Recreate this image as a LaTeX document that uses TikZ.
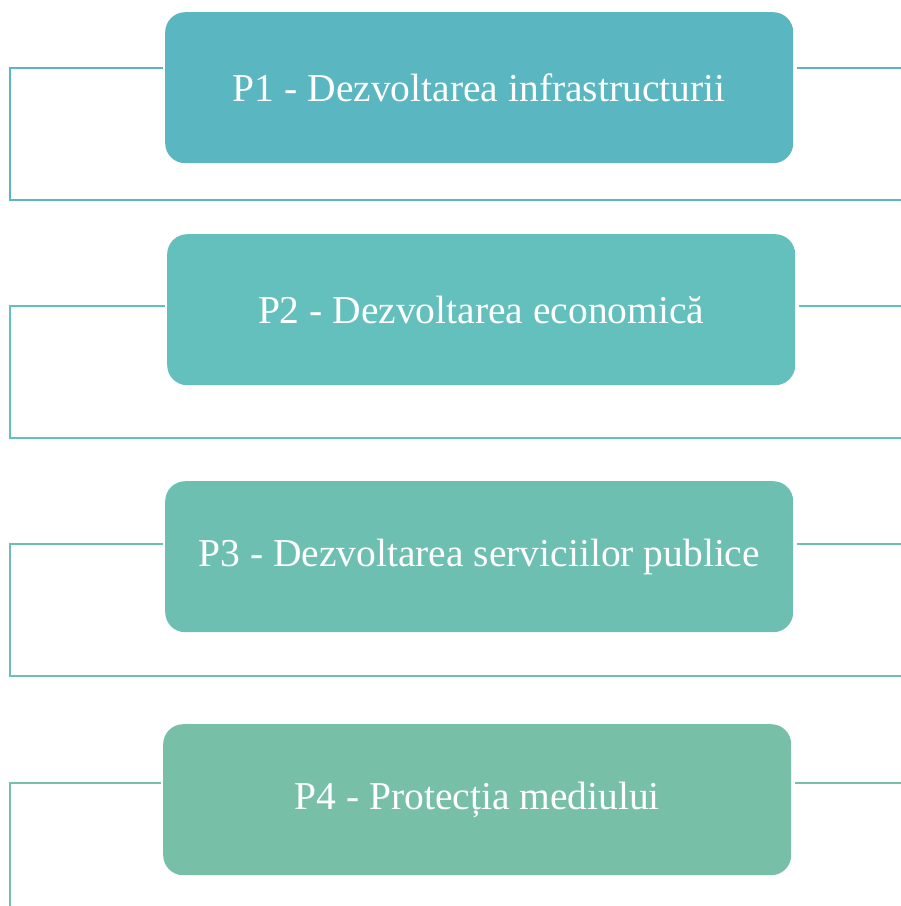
\documentclass[tikz,border=0pt]{standalone}
\usepackage{fontspec}
\setmainfont{Liberation Serif}
\definecolor{cA}{HTML}{5AB6C1}
\definecolor{cB}{HTML}{63C0BD}
\definecolor{cC}{HTML}{6DBFB1}
\definecolor{cD}{HTML}{78BFA8}
\begin{document}
\begin{tikzpicture}[x=1pt,y=-1pt,
  pbox/.style={rounded corners=20pt, minimum width=628pt, minimum height=151pt, inner sep=0pt,
    text=white, font=\fontsize{39.5}{42}\selectfont, anchor=north west},
  bracket/.style={line width=2.3pt}]
\useasboundingbox (0,0) rectangle (901,906);
\node[pbox, fill=cA] (b1) at (165,12) {P1 - Dezvoltarea infrastructurii};
\node[pbox, fill=cB] (b2) at (167,234) {P2 - Dezvoltarea economică};
\node[pbox, fill=cC] (b3) at (165,481) {P3 - Dezvoltarea serviciilor publice};
\node[pbox, fill=cD] (b4) at (163,724) {P4 - Protecția mediului};
% brackets
\coordinate (l1) at (163,68); \coordinate (r1) at (797,68);
\draw[bracket, draw=cA] (l1) -- (10,68) -- (10,200) -- (901,200);
\draw[bracket, draw=cA] (r1) -- (901,68);
\coordinate (l2) at (165,306); \coordinate (r2) at (799,306);
\draw[bracket, draw=cB] (l2) -- (10,306) -- (10,438) -- (901,438);
\draw[bracket, draw=cB] (r2) -- (901,306);
\coordinate (l3) at (163,544); \coordinate (r3) at (797,544);
\draw[bracket, draw=cC] (l3) -- (10,544) -- (10,676) -- (901,676);
\draw[bracket, draw=cC] (r3) -- (901,544);
\coordinate (l4) at (161,783); \coordinate (r4) at (795,783);
\draw[bracket, draw=cD] (l4) -- (10,783) -- (10,906);
\draw[bracket, draw=cD] (r4) -- (901,783);
\end{tikzpicture}
\end{document}
